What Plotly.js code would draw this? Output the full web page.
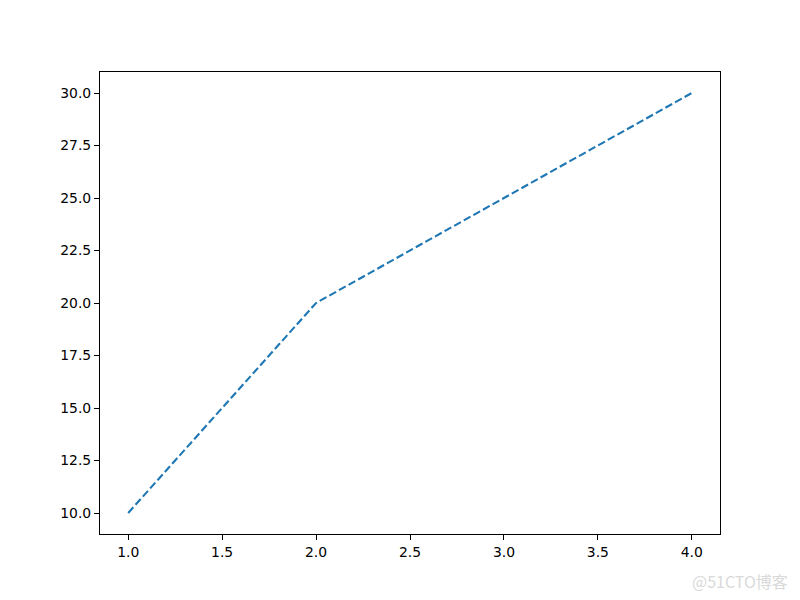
<!DOCTYPE html>
<html>
<head>
<meta charset="utf-8">
<script src="https://cdn.plot.ly/plotly-3.0.1.min.js"></script>
<style>
  body { margin: 0; }
  #chart { width: 800px; height: 600px; }
</style>
</head>
<body>
<div id="chart"></div>
<script>
let x_values = [1, 2, 3, 4];
let y_values = [10, 20, 25, 30];
let x_ticks = [1.0, 1.5, 2.0, 2.5, 3.0, 3.5, 4.0];
let y_ticks = [10.0, 12.5, 15.0, 17.5, 20.0, 22.5, 25.0, 27.5, 30.0];

let line = {
  x: x_values,
  y: y_values,
  type: "scatter",
  mode: "lines",
  line: {color: "#1f77b4", width: 2.1, dash: "7.7px,3.3px"},
  showlegend: false,
};

let axis_style = {
  showgrid: false,
  zeroline: false,
  showline: true,
  mirror: true,
  linecolor: "#000",
  linewidth: 1.1,
  ticks: "outside",
  ticklen: 5,
  tickwidth: 1.1,
  tickcolor: "#000",
  tickfont: {family: "DejaVu Sans", size: 13.9, color: "#000"},
};

let layout = {
  width: 800,
  height: 600,
  margin: {l: 100, r: 80, t: 72, b: 66},
  paper_bgcolor: "#fff",
  plot_bgcolor: "#fff",
  xaxis: Object.assign({}, axis_style, {
    range: [0.85, 4.15],
    tickvals: x_ticks,
    ticktext: x_ticks.map(v => v.toFixed(1)),
  }),
  yaxis: Object.assign({}, axis_style, {
    range: [9, 31],
    tickvals: y_ticks,
    ticktext: y_ticks.map(v => v.toFixed(1)),
  }),
  annotations: [{
    text: "@51CTO博客",
    xref: "paper", yref: "paper",
    x: 1.113, y: -0.102,
    xanchor: "right", yanchor: "middle",
    showarrow: false,
    font: {family: "Noto Sans CJK SC", size: 16, color: "#d9d9d9"},
  }],
};

Plotly.newPlot("chart", [line], layout, {displaylogo: false, displayModeBar: false});
</script>
</body>
</html>
